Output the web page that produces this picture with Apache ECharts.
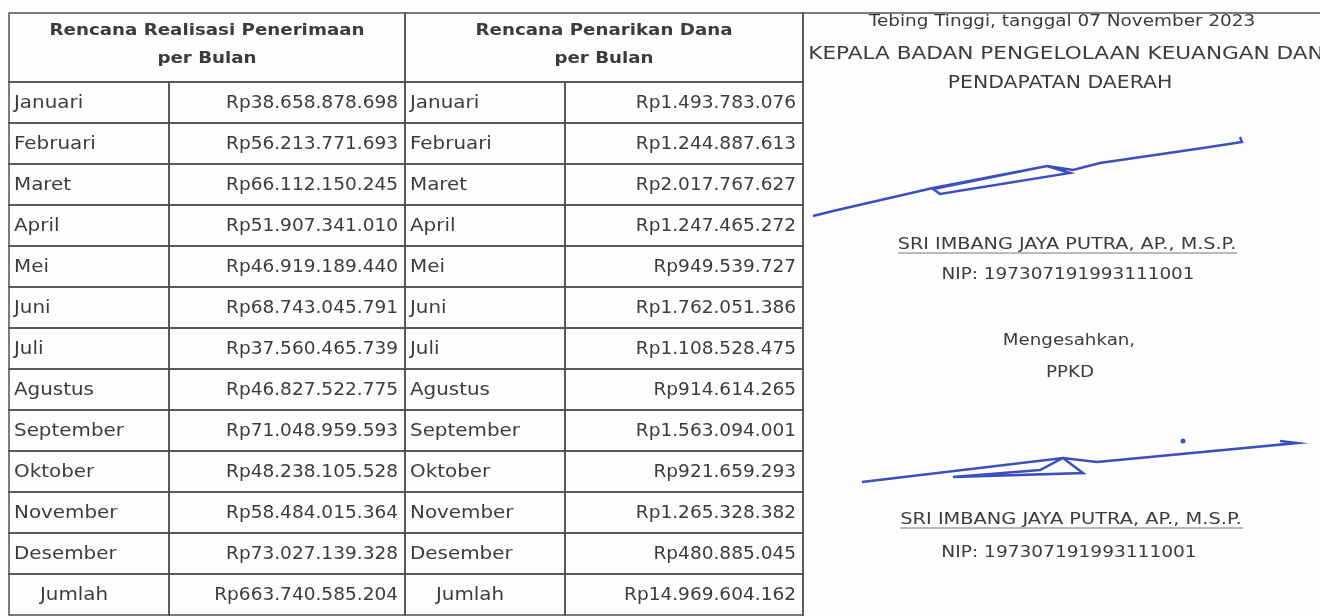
<!DOCTYPE html>
<html>
<head>
<meta charset="utf-8">
<script src="https://cdn.jsdelivr.net/npm/echarts@6/dist/echarts.min.js"></script>
<style>
    html, body {margin: 0; background: #fdfdfd;}
    #main {width: 1320px; height: 616px;}
</style>
</head>
<body>
<div id="main"></div>
<script>
let months = ['Januari', 'Februari', 'Maret', 'April', 'Mei', 'Juni', 'Juli', 'Agustus', 'September', 'Oktober', 'November', 'Desember'];
let penerimaan = [38658878698, 56213771693, 66112150245, 51907341010, 46919189440, 68743045791, 37560465739, 46827522775, 71048959593, 48238105528, 58484015364, 73027139328];
let penarikan = [1493783076, 1244887613, 2017767627, 1247465272, 949539727, 1762051386, 1108528475, 914614265, 1563094001, 921659293, 1265328382, 480885045];
let totalLabel = 'Jumlah';
let headerLeft = ['Rencana Realisasi Penerimaan', 'per Bulan'];
let headerRight = ['Rencana Penarikan Dana', 'per Bulan'];
let signText = ['Tebing Tinggi, tanggal 07 November 2023', 'KEPALA BADAN PENGELOLAAN KEUANGAN DAN', 'PENDAPATAN DAERAH'];
let pejabat = 'SRI IMBANG JAYA PUTRA, AP., M.S.P.';
let nip = 'NIP: 197307191993111001';
let pengesahan = ['Mengesahkan,', 'PPKD'];

let chart = echarts.init(document.getElementById('main'));

let lineColor = '#505050';
let textColor = '#3c3c3c';
let font = '"DejaVu Sans", sans-serif';
// batas kolom (px dari kiri tabel)
let colEdges = [0, 160, 396, 556, 794];
let tableLeft = 9, tableTop = 13, headerH = 69;

function rupiah(v) {
    return 'Rp' + String(v).replace(/\B(?=(\d{3})+(?!\d))/g, '.');
}
function sum(arr) {
    let s = 0;
    for (let i = 0; i < arr.length; i++) s += arr[i];
    return s;
}

let rows = months.concat([totalLabel]);
let cells = [];
for (let i = 0; i < rows.length; i++) {
    let last = i === months.length;
    cells.push({col: 0, row: i, text: rows[i], align: last ? 'total' : 'left'});
    cells.push({col: 1, row: i, text: rupiah(last ? sum(penerimaan) : penerimaan[i]), align: 'right'});
    cells.push({col: 2, row: i, text: rows[i], align: last ? 'total' : 'left'});
    cells.push({col: 3, row: i, text: rupiah(last ? sum(penarikan) : penarikan[i]), align: 'right'});
}

function renderCell(params, api) {
    let c = cells[params.dataIndex];
    let x0 = api.coord([colEdges[c.col], c.row])[0];
    let x1 = api.coord([colEdges[c.col + 1], c.row])[0];
    let yc = api.coord([0, c.row])[1];
    let h = api.size([0, 1])[1];
    let tx = c.align === 'right' ? x1 - 7 : (c.align === 'total' ? x0 + 31 : x0 + 5);
    return {
        type: 'group',
        children: [{
            type: 'rect',
            shape: {x: x0, y: yc - h / 2, width: x1 - x0, height: h},
            style: {fill: 'none', stroke: lineColor, lineWidth: 1.5}
        }, {
            type: 'text',
            x: tx, y: yc + 1,
            scaleX: c.align === 'right' ? 1.09 : 1.17,
            style: {
                text: c.text,
                align: c.align === 'right' ? 'right' : 'left', verticalAlign: 'middle',
                font: '17px ' + font, fill: textColor
            }
        }]
    };
}

function headerGraphic(x0, x1, lines) {
    let cx = tableLeft + (x0 + x1) / 2;
    return [{
        type: 'rect',
        shape: {x: tableLeft + x0, y: tableTop, width: x1 - x0, height: headerH},
        style: {fill: 'none', stroke: lineColor, lineWidth: 1.5}
    }, {
        type: 'text', x: cx, y: 31, scaleX: 1.14,
        style: {text: lines[0], align: 'center', verticalAlign: 'middle', font: 'bold 16px ' + font, fill: textColor}
    }, {
        type: 'text', x: cx, y: 59, scaleX: 1.14,
        style: {text: lines[1], align: 'center', verticalAlign: 'middle', font: 'bold 16px ' + font, fill: textColor}
    }];
}

function centerText(text, x, y, size, sx) {
    return {
        type: 'text', x: x, y: y, scaleX: sx,
        style: {text: text, align: 'center', verticalAlign: 'middle', font: size + 'px ' + font, fill: textColor}
    };
}

let graphic = [].concat(
    headerGraphic(colEdges[0], colEdges[2], headerLeft),
    headerGraphic(colEdges[2], colEdges[4], headerRight),
    [
        {type: 'line', shape: {x1: 803, y1: tableTop, x2: 1320, y2: tableTop}, style: {stroke: lineColor, lineWidth: 1.5}},
        {type: 'line', shape: {x1: 803, y1: tableTop, x2: 803, y2: 616}, style: {stroke: lineColor, lineWidth: 1.5}},
        centerText(signText[0], 1062, 22, 16, 1.15),
        centerText(signText[1], 1066, 54, 18, 1.2),
        centerText(signText[2], 1060, 84, 17, 1.2),
        centerText(pejabat, 1067, 245, 16, 1.2),
        {type: 'line', shape: {x1: 898, y1: 253, x2: 1237, y2: 253}, style: {stroke: '#777', lineWidth: 1}},
        centerText(nip, 1068, 275, 16, 1.15),
        centerText(pengesahan[0], 1069, 341, 16, 1.14),
        centerText(pengesahan[1], 1070, 373, 16, 1.14),
        centerText(pejabat, 1071, 520, 16, 1.21),
        {type: 'line', shape: {x1: 900, y1: 528, x2: 1243, y2: 528}, style: {stroke: '#777', lineWidth: 1}},
        centerText(nip, 1069, 553, 16, 1.16),
        // paraf
        {type: 'polyline', shape: {points: [[813, 216], [833, 211], [933, 188], [1047, 166], [1070, 173], [940, 194], [933, 189], [1047, 166], [1073, 170], [1100, 163], [1203, 148], [1242, 142], [1240, 137]]},
            style: {stroke: '#3b4fbf', lineWidth: 2.5, fill: 'none'}},
        {type: 'polyline', shape: {points: [[862, 482], [1063, 458], [1083, 473], [953, 477], [1040, 470], [1063, 458], [1097, 462], [1297, 443], [1280, 441]]},
            style: {stroke: '#3b4fbf', lineWidth: 2.5, fill: 'none'}},
        {type: 'circle', shape: {cx: 1183, cy: 441, r: 2.5}, style: {fill: '#3b4fbf'}}
    ]
);

let option = {
    backgroundColor: '#fdfdfd',
    animation: false,
    grid: {left: tableLeft, top: tableTop + headerH, width: colEdges[4], height: rows.length * 41},
    xAxis: {type: 'value', min: 0, max: colEdges[4], show: false},
    yAxis: {type: 'category', data: rows, inverse: true, show: false},
    graphic: graphic,
    series: [{
        type: 'custom',
        renderItem: renderCell,
        data: cells.map(c => [colEdges[c.col], c.row]),
        silent: true
    }]
};

chart.setOption(option);
</script>
</body>
</html>
